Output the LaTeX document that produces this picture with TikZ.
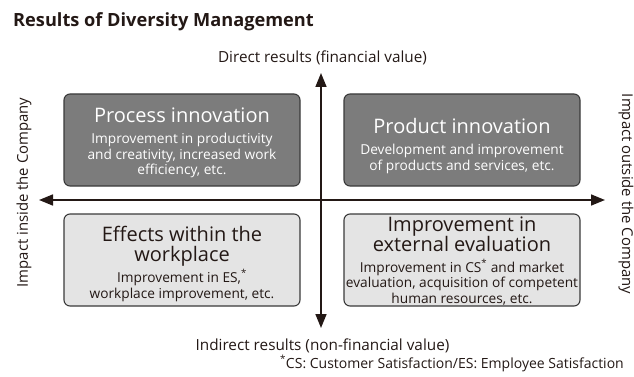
\documentclass[tikz,border=0pt]{standalone}
\usepackage{fontspec}
\setmainfont{Open Sans}
\usetikzlibrary{arrows.meta}
\definecolor{ink}{HTML}{231815}
\definecolor{darkfill}{HTML}{7C7C7C}
\definecolor{lightfill}{HTML}{E4E4E4}
\definecolor{edge}{HTML}{3A3A3A}
\newcommand{\fs}[2]{\fontsize{#1}{#2}\selectfont}
\newcommand{\hd}[1]{{\fs{20}{19.5}#1}}
\newcommand{\bodyfont}{\fs{13.7}{15.5}\lineskiplimit=-30pt\relax}
\tikzset{
  box/.style={draw=edge, line width=1.1pt, rounded corners=6pt, minimum width=236pt, minimum height=92pt, inner sep=0pt},
  darkbox/.style={box, fill=darkfill},
  lightbox/.style={box, fill=lightfill},
  boxtext/.style={align=center, inner sep=0pt, font=\bodyfont},
  whitetext/.style={boxtext, text=white},
  inktext/.style={boxtext, text=ink},
  axis/.style={draw=ink, line width=1.6pt, {Triangle[length=14pt,width=11pt]}-{Triangle[length=14pt,width=11pt]}},
  lbl/.style={text=ink, inner sep=0pt}
}
\begin{document}
\begin{tikzpicture}[x=1pt,y=-1pt]
\useasboundingbox (0,0) rectangle (634,377);
\node[lbl, anchor=base west, font=\fs{18.2}{22}\bfseries] (title) at (13,27) {Results of Diversity Management};
\node[lbl, anchor=base, font=\fs{15.3}{18}] (direct) at (322.5,63) {Direct results (financial value)};
\node[lbl, anchor=base, font=\fs{15.3}{18}] (indirect) at (322.5,350) {Indirect results (non-financial value)};
\node[lbl, anchor=base east, font=\fs{14}{16}] (note) at (624,368) {\textsuperscript{*}CS: Customer Satisfaction/ES: Employee Satisfaction};
\node[lbl, rotate=90, font=\fs{14.9}{18}] (inside) at (24,192.5) {Impact inside the Company};
\node[lbl, rotate=-90, font=\fs{14.9}{18}] (outside) at (626,194) {Impact outside the Company};

\node[darkbox] (proc) at (182,140) {};
\node[darkbox] (prod) at (462,140) {};
\node[lightbox] (work) at (182,260) {};
\node[lightbox] (ext) at (462,260) {};

\node[whitetext] (proc-t) at (182,143) {\hd{Process innovation}\\[5.5pt]Improvement in productivity\\and creativity, increased work\\efficiency, etc.};
\node[whitetext] (prod-t) at (462,146) {\hd{Product innovation}\\[5.5pt]Development and improvement\\[1pt]of products and services, etc.};
\node[inktext] (work-t) at (182,264) {\hd{Effects within the}\\[4pt]\hd{workplace}\\[5.5pt]Improvement in ES,\textsuperscript{*}\\[1pt]workplace improvement, etc.};
\node[inktext] (ext-t) at (462,261) {\hd{Improvement in}\\[4pt]\hd{external evaluation}\\[5.5pt]Improvement in CS\textsuperscript{*} and market\\evaluation, acquisition of competent\\human resources, etc.};

\coordinate (top) at (321,73);
\coordinate (bot) at (321,328);
\coordinate (lft) at (39,200);
\coordinate (rgt) at (605,200);
\draw[axis] (bot) -- (top);
\draw[axis] (lft) -- (rgt);
\end{tikzpicture}
\end{document}
